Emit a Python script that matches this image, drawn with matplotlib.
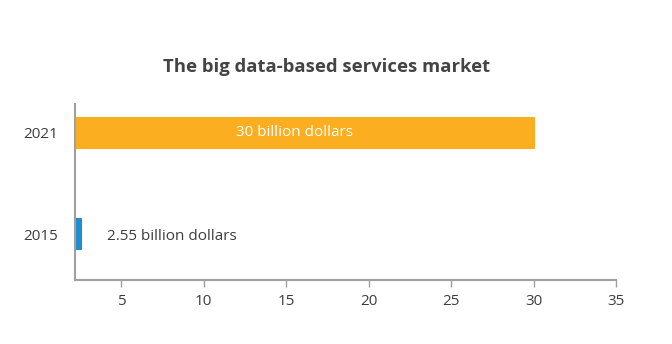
import matplotlib.pyplot as plt

# data
years = ['2015', '2021']
market = [2.55, 30]
bar_colors = ['#1f8dcf', '#fbae1f']
bar_texts = ['2.55 billion dollars', '30 billion dollars']
x_ticks = [5, 10, 15, 20, 25, 30, 35]

plt.rcParams['font.family'] = ['Open Sans', 'DejaVu Sans']
text_col = '#3d3d3d'
axis_col = '#a0a0a0'

fig = plt.figure(figsize=(6.72, 3.44), dpi=100)
ax = fig.add_axes([0.1116, 0.186, 0.8051, 0.512])

ypos = list(range(len(years)))
bars = ax.barh(ypos, market, height=0.3, color=bar_colors,
               edgecolor=bar_colors, linewidth=1.5)
for b in bars:
    b.set_joinstyle('round')

ax.set_xlim(2.2, 35)
ax.set_ylim(-0.455, 1.288)
ax.set_xticks(x_ticks)
ax.set_yticks(ypos)
ax.set_yticklabels(years)

# value labels: inside the long bar, outside the short one
xmin = ax.get_xlim()[0]
for y, v, t in zip(ypos, market, bar_texts):
    if v > 10:
        ax.text((xmin + v) / 2 - 0.6, y, t, color='white', fontsize=11,
                ha='center', va='center')
    else:
        ax.text(v + 1.6, y - 0.02, t, color=text_col, fontsize=11,
                ha='left', va='center')

for s in ['top', 'right']:
    ax.spines[s].set_visible(False)
for s in ['left', 'bottom']:
    ax.spines[s].set_color(axis_col)
    ax.spines[s].set_linewidth(1.5)

ax.tick_params(axis='x', length=5, width=1, color=axis_col, colors=text_col,
               labelsize=11, pad=5)
ax.tick_params(axis='y', length=0, colors=text_col, labelsize=11, pad=12)
for lab in ax.get_xticklabels() + ax.get_yticklabels():
    lab.set_color(text_col)

fig.text(0.4862, 0.805, 'The big data-based services market', ha='center',
         va='center', fontsize=13.3, fontweight='bold', color='#444444')

fig.savefig('out.png', dpi=100)
